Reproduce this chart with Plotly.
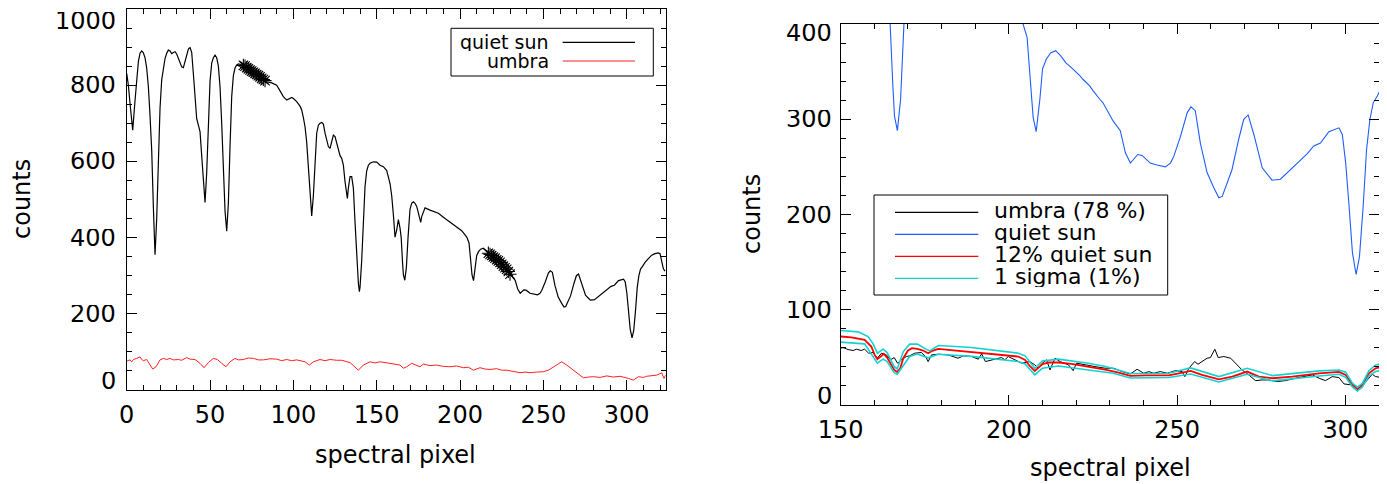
import plotly.graph_objects as go

W, H = 1387, 484
OFF = 8  # default page (body) margin in the browser; figure is placed at (OFF, OFF)
FONT = "DejaVu Sans"

# ---------------- data: quiet sun spectrum (counts vs spectral pixel) ----------------
qs_x = [0, 1, 2, 3, 3.6, 5, 6, 7, 8, 9, 10, 11, 12, 13, 14, 15, 16, 17, 18, 19, 20, 21, 22, 23, 24, 25, 26,
        27, 28, 29, 30, 31, 32, 33, 34, 35, 36, 37, 38, 39, 40, 41, 42, 43, 44, 45, 46, 47, 48, 49, 50, 51,
        52, 53, 54, 55, 56, 57, 58, 59, 60, 61, 62, 63, 64, 65, 66, 67, 68, 69,
        70, 71, 72, 73, 74, 75, 76, 77, 78, 79, 80, 81, 82, 83, 84, 87, 90, 92, 94, 96, 98, 99, 100, 102,
        104, 105, 106, 107, 108, 109, 110, 111, 112, 113, 114, 115, 116, 117, 118, 119, 120, 121, 122, 123,
        124, 125, 126, 127, 128, 129, 130, 131, 132, 132.4, 133, 134, 135, 136, 137, 138, 139, 139.6, 140,
        141, 142, 143, 144, 145, 146, 148, 150, 152, 154, 156, 158, 159, 160, 161, 162, 163, 164, 164.7,
        165.5, 166, 166.85, 167.8, 168.8, 169.5, 170, 171, 172, 173, 174, 175, 176, 176.4, 177, 178, 179,
        182, 187, 191, 196, 201, 203, 204.2, 205.4, 206.4, 207.2, 208.1, 209.2, 210, 211.1, 212.4, 213.9,
        215.4, 217, 218, 219, 220, 221, 222, 223, 224, 225, 226, 227, 228, 229, 230, 231, 233.1, 234.6,
        236.1, 238.3, 239.6, 242, 244, 246.5, 248, 249, 251, 253, 254.1, 255.4, 256.9, 258.9, 260.9,
        262.4, 263.4, 264.9, 266.3, 268.3, 269.8, 271.1, 272.8, 275.3, 276.8, 278.2, 280.7, 282.7, 286.2,
        288.7, 290.6, 292.6, 295.1, 298.1, 299.1, 300.1, 301.1, 302.1, 303.2, 304.2, 305.3, 306.3, 307.3,
        308.3, 309.5, 311, 313, 315, 317, 319, 320, 321, 322, 323]
qs_y = [831, 800, 752, 700, 682, 760, 820, 862, 884, 890, 885, 872, 845, 796, 720, 630, 480, 355, 450, 620,
        740, 814, 850, 870, 884, 892, 890, 883, 886, 888, 882, 870, 858, 848, 846, 862, 884, 895, 899, 886,
        830, 761, 712, 695, 678, 615, 545, 492, 570, 700, 810, 858, 872, 879, 872, 850, 796, 700, 569, 470,
        417, 490, 640, 770, 825, 845, 853, 856, 855, 854,
        852, 850, 846, 843, 840, 837, 834, 831, 828, 825, 822, 818, 815, 812, 809, 806, 800, 785, 770, 761,
        765, 768, 765, 757, 745, 735, 715, 691, 650, 575, 499, 457, 510, 600, 674, 695, 700, 702, 698, 674,
        655, 639, 634, 650, 669, 665, 650, 630, 615, 608, 590, 547, 510, 503, 530, 560, 560, 530, 440, 341,
        280, 258, 270, 340, 450, 534, 575, 590, 595, 599, 598, 590, 586, 576, 542, 510, 460, 401, 420, 447,
        425, 400, 335, 303, 288, 321, 400, 445, 475, 490, 494, 490, 482, 465, 445, 440, 455, 470, 478, 472,
        464, 450, 435, 418, 407, 400, 386, 335, 302, 287, 321, 353, 363, 369.5, 372, 366.6, 359, 356, 353,
        349, 346, 342, 339, 335, 330, 325, 321, 317, 311, 304, 298, 288, 265, 254, 263, 262, 254, 252, 250,
        254, 261, 282, 307, 313, 309, 275, 244, 228, 217.5, 219, 233, 247, 279, 300, 304.5, 284, 249, 242,
        236, 237, 244, 256, 264, 272, 275, 287, 291, 284, 254, 209, 160, 137, 156, 209, 268, 300, 317.5,
        324.5, 335, 345, 354, 358, 360, 358, 340, 318, 312]

# pixel ranges marked with asterisks
star_ranges = [(70, 83), (217, 230)]

# ---------------- data: umbra spectrum (left panel) ----------------
um_x = [0, 2, 3, 4, 6, 8, 9, 10, 12, 14, 15.6, 17.6, 20, 22, 24, 26, 28, 31, 33, 36, 38, 41, 44, 46.4, 49,
        52, 54.4, 57, 59.6, 62, 65, 67, 70, 73, 76, 79, 82, 86, 90, 93, 96, 99, 102, 107, 109.6, 112, 116,
        119, 122, 126, 129, 134, 137, 139, 142, 146, 149, 152, 155, 158, 161, 164, 166, 168, 171, 174,
        176, 178, 182, 186, 190, 194, 198, 202, 205, 208, 212, 215, 218, 222, 225, 228, 232, 236, 239,
        242, 246, 250, 253, 256, 258, 261, 264, 269, 274, 277, 280, 284, 288, 292, 296, 301, 304, 307,
        310, 312, 315, 318, 321, 322.4, 323.4]
um_y = [76, 79, 74, 80, 83, 87, 80, 77, 80, 66, 55, 61, 79, 83, 80, 83, 79, 80, 78, 85, 81, 80, 70, 58.5,
        72, 83, 80, 70, 61, 74, 83, 79, 80, 84, 83, 79, 79, 82, 81, 77, 80, 77, 79, 74, 65.5, 74, 80, 77,
        80, 78, 78, 72, 61, 52, 65.5, 74, 71, 74, 72, 70, 68, 65.5, 57, 61, 70, 64, 61, 68, 64, 65.5, 62,
        61, 63, 58.5, 60, 52, 58.5, 55, 54, 56, 52, 52, 49, 45.4, 47, 45.4, 47, 48, 52, 61, 66, 74, 65.5,
        48, 32, 34, 35, 33, 37, 34, 36, 30.5, 26, 35, 33, 36, 37, 39, 45, 30.5, 39]

# ---------------- data: right panel ----------------
u78_x = [150, 150.7, 152.2, 153.7, 154.7, 156.1, 157.1, 158.3, 159.6, 160.9, 162.1, 163.6, 164.8, 165.9,
         166.9, 168.0, 169.5, 170.5, 172.0, 174.0, 175.2, 176.0, 177.0, 179.0, 181.9, 184.9, 186.4, 188.9,
         190.9, 191.9, 193.0, 194.8, 197.8, 198.8, 199.8, 201.8, 203.8, 206.2, 207.7, 208.7, 209.9, 211.2,
         212.2, 213.7, 215.2, 217.7, 219.1, 220.1, 222.6, 225.6, 228.6, 231.1, 233.6, 236.1, 238.1, 240.1,
         241.6, 243.0, 245.0, 247.0, 249.5, 251.5, 252.3, 253.5, 255.2, 256.2, 257.4, 258.9, 259.9, 261.2,
         262.2, 263.9, 265.9, 267.8, 269.3, 271.3, 273.3, 275.3, 277.3, 279.8, 282.2, 285.2, 288.2, 290.2,
         292.2, 294.1, 296.1, 298.1, 299.6, 302.1, 303.6, 305.5, 307.0, 308.0, 309.0, 310.3]
u78_y = [59.6, 60.3, 58.2, 57.2, 58.6, 57.2, 58.6, 54.4, 55.1, 49.1, 54.4, 52.6, 47.4, 49.8, 43.9, 47.4,
         50.9, 51.6, 54.4, 55.1, 50.9, 45.6, 52.6, 53.3, 52.6, 49.1, 51.6, 50.9, 48.1, 53.7, 45.6, 47.4,
         49.8, 47.4, 50.9, 47.4, 43.9, 45.6, 42.1, 38.6, 43.9, 47.4, 36.8, 49.1, 45.6, 42.1, 36.1, 43.9,
         42.1, 40.3, 38.6, 38.6, 35.1, 32.6, 37.5, 33.3, 35.1, 33.3, 35.1, 33.3, 36.1, 35.1, 29.8, 38.6,
         45.6, 42.8, 45.6, 49.1, 49.8, 58.6, 49.8, 50.9, 49.1, 42.1, 36.8, 31.6, 25.6, 26.3, 26.3, 24.6,
         25.6, 28.1, 29.8, 31.6, 28.1, 25.6, 29.8, 28.8, 22.1, 21.0, 19.3, 22.1, 28.1, 32.3, 29.8, 29.1]

q12_x = [150, 153.2, 157.1, 159.1, 160.1, 160.9, 161.9, 162.8, 163.8, 164.9, 165.9, 166.8, 167.7, 168.6,
         170, 171.2, 172.8, 174.5, 176, 177, 179, 182, 188.9, 196.8, 202.8, 204.8, 206.2, 207.7, 208.7,
         209.9, 211.7, 214.7, 218.6, 223.6, 228.6, 232.6, 236.1, 240.6, 247.5, 250.5, 254, 257.4, 262.4,
         266.4, 270.8, 274.3, 278.3, 284.2, 292.2, 298.1, 300.1, 302.1, 303.6, 305.1, 307, 309, 310.3]
q12_y = [71.9, 70.9, 68.4, 61.4, 52.6, 48.1, 50.9, 53.7, 49.8, 42.1, 36.8, 34.7, 38.6, 49.1, 57.2, 59.6,
         58.9, 57.2, 54.4, 56.5, 58.9, 57.9, 55.8, 53.3, 50.9, 47.4, 41.0, 35.8, 38.6, 42.8, 44.6, 44.6,
         43.2, 40.3, 37.2, 34.0, 30.5, 31.2, 31.2, 33.3, 35.8, 31.6, 27.0, 29.8, 35.1, 29.8, 28.1, 29.8,
         33.3, 34.7, 31.6, 21.0, 16.5, 21.0, 33.3, 38.6, 39.6]

sig_hi_x = [150, 155.2, 158.1, 159.6, 160.9, 162.6, 163.8, 165.9, 166.8, 168.6, 170.5, 172.8, 175.2, 176.5,
            179, 188.9, 202.8, 204.8, 207.7, 209.9, 214.7, 223.6, 228.7, 236.1, 247.5, 254, 262.4, 270.8,
            278.3, 292.2, 298.1, 300.1, 302.1, 303.6, 305.1, 307, 309, 310.3]
sig_hi_y = [78.2, 76.8, 71.9, 64.5, 54.4, 58.6, 55.1, 40.3, 37.9, 56.1, 63.9, 63.9, 58.9, 56.8, 62.5, 60.3,
            54.4, 51.6, 38.6, 46.3, 48.1, 43.9, 40.5, 33.0, 33.3, 38.9, 29.8, 38.6, 30.9, 35.8, 36.8, 34.5,
            23.0, 18.6, 23.0, 36.0, 42.1, 42.8]
sig_lo_x = [150, 157.1, 160.9, 162.6, 163.8, 165.9, 166.8, 170.5, 172.8, 176, 179, 188.9, 202.8, 204.8,
            207.7, 209.9, 214.7, 223.6, 231, 236.1, 247.5, 254, 262.4, 270.8, 278.3, 292.2, 298.1, 300.1,
            302.1, 303.6, 305.1, 307, 309, 310.3]
sig_lo_y = [66.0, 64.2, 43.9, 48.1, 45.5, 34.0, 32.3, 50.9, 53.5, 49.5, 53.3, 51.0, 45.6, 43.0, 31.6, 38.5,
            41.0, 37.0, 33.3, 28.4, 28.8, 32.6, 24.2, 32.3, 25.3, 30.5, 32.3, 29.0, 19.0, 14.7, 19.0, 30.5,
            35.1, 36.1]

# tick values
left_yticks = [0, 200, 400, 600, 800, 1000]
right_yticks = [0, 100, 200, 300, 400]

left_legend = [("quiet sun", "black"), ("umbra", "#ff2020")]
right_legend = [("umbra (78 %)", "black"), ("quiet sun", "#1f5cff"),
                ("12% quiet sun", "#ff0000"), ("1 sigma (1%)", "#12d2d2")]

FW, FH = W - OFF, H - OFF


# ---------------- helpers: reference-pixel -> paper coordinates ----------------
def px(x):
    return (x - OFF) / FW


def py(y):
    return 1 - (y - OFF) / FH


fig = go.Figure()

# left panel
fig.add_trace(go.Scatter(x=qs_x, y=qs_y, mode="lines", line=dict(color="black", width=1.2),
                         xaxis="x", yaxis="y"))
fig.add_trace(go.Scatter(x=um_x, y=um_y, mode="lines", line=dict(color="#ff2020", width=1),
                         xaxis="x", yaxis="y"))
sx, sy = [], []
for a, b in star_ranges:
    for xv, yv in zip(qs_x, qs_y):
        if a <= xv <= b and float(xv).is_integer():
            sx.append(xv)
            sy.append(yv)
fig.add_trace(go.Scatter(x=sx, y=sy, mode="markers",
                         marker=dict(symbol="asterisk-open", size=11, color="black",
                                     line=dict(color="black", width=1.1)),
                         xaxis="x", yaxis="y"))

# right panel
fig.add_trace(go.Scatter(x=u78_x, y=u78_y, mode="lines", line=dict(color="black", width=1),
                         xaxis="x2", yaxis="y2"))
fig.add_trace(go.Scatter(x=qs_x, y=qs_y, mode="lines", line=dict(color="#1f5cff", width=1.1),
                         xaxis="x2", yaxis="y2"))
fig.add_trace(go.Scatter(x=q12_x, y=q12_y, mode="lines", line=dict(color="#ff0000", width=1.8),
                         xaxis="x2", yaxis="y2"))
fig.add_trace(go.Scatter(x=sig_hi_x, y=sig_hi_y, mode="lines", line=dict(color="#12d2d2", width=1.6),
                         xaxis="x2", yaxis="y2"))
fig.add_trace(go.Scatter(x=sig_lo_x, y=sig_lo_y, mode="lines", line=dict(color="#12d2d2", width=1.6),
                         xaxis="x2", yaxis="y2"))

tickfont = dict(family=FONT, size=24, color="black")


def axis(domain, rng, dtick, minor_dtick, **kw):
    d = dict(domain=domain, range=rng, tickmode="linear", tick0=0, dtick=dtick,
             ticks="inside", ticklen=10, tickwidth=1, tickcolor="black",
             minor=dict(ticks="inside", ticklen=5, dtick=minor_dtick, tick0=0, tickcolor="black",
                        tickwidth=1, showgrid=False),
             showline=True, linecolor="black", linewidth=1, mirror="allticks",
             showgrid=False, zeroline=False, tickfont=tickfont, automargin=False)
    d.update(kw)
    return d


fig.update_layout(
    width=FW, height=FH, autosize=False,
    margin=dict(l=0, r=0, t=0, b=0, autoexpand=False),
    paper_bgcolor="white", plot_bgcolor="white",
    showlegend=False,
    xaxis=axis([px(126.7), px(665.7)], [0, 323.4], 50, 10, anchor="y", ticklabelstandoff=3),
    yaxis=axis([py(390), py(9)], [0, 1000], 200, 50, anchor="x", showticklabels=False),
    xaxis2=axis([px(840.7), px(1379)], [150, 310], 50, 10, anchor="y2", ticklabelstandoff=3),
    yaxis2=axis([py(405), py(24)], [0, 400], 100, 20, anchor="x2", showticklabels=False),
)

annotations = []
shapes = []

# y tick labels (end labels nudged inward, as in the original)
for ticks, yref, xref, gap, top_shift in [(left_yticks, "y", "x domain", -10, -12),
                                          (right_yticks, "y2", "x2 domain", -8, -9)]:
    for i, v in enumerate(ticks):
        shift = 9 if i == 0 else (top_shift if i == len(ticks) - 1 else 0)
        annotations.append(dict(x=0, y=v, xref=xref, yref=yref, text=str(v), showarrow=False,
                                font=tickfont, xanchor="right", yanchor="middle", xshift=gap, yshift=shift,
                                height=18, borderpad=0))

titlefont = dict(family=FONT, size=24, color="black")
# axis titles
annotations.append(dict(x=px(396), y=py(455), xref="paper", yref="paper", text="spectral pixel",
                        showarrow=False, font=titlefont, xanchor="center", yanchor="middle"))
annotations.append(dict(x=px(1110), y=py(468), xref="paper", yref="paper", text="spectral pixel",
                        showarrow=False, font=titlefont, xanchor="center", yanchor="middle"))
annotations.append(dict(x=px(22), y=py(199), xref="paper", yref="paper", text="counts", height=24,
                        showarrow=False, font=titlefont, textangle=-90, xanchor="center", yanchor="middle",
                        borderpad=0))
annotations.append(dict(x=px(752), y=py(214), xref="paper", yref="paper", text="counts", height=24,
                        showarrow=False, font=titlefont, textangle=-90, xanchor="center", yanchor="middle",
                        borderpad=0))

# left legend
shapes.append(dict(type="rect", xref="paper", yref="paper", x0=px(451), x1=px(653.3), y0=py(76), y1=py(28.3),
                   line=dict(color="black", width=1), fillcolor="white", layer="above"))
for i, (lab, col) in enumerate(left_legend):
    yy = 42.3 + i * 18.7
    shapes.append(dict(type="line", xref="paper", yref="paper", x0=px(562.7), x1=px(635), y0=py(yy), y1=py(yy),
                       line=dict(color=col, width=1.2), layer="above"))
    annotations.append(dict(x=px(550), y=py(yy), xref="paper", yref="paper", text=lab, showarrow=False,
                            font=dict(family=FONT, size=19, color="black"), xanchor="right", yanchor="middle",
                            borderpad=0, height=18))

# right legend
shapes.append(dict(type="rect", xref="paper", yref="paper", x0=px(874), x1=px(1167.7), y0=py(295), y1=py(195),
                   line=dict(color="black", width=1), fillcolor="white", layer="above"))
for i, (lab, col) in enumerate(right_legend):
    yy = 212.3 + i * 22.0
    shapes.append(dict(type="line", xref="paper", yref="paper", x0=px(895), x1=px(978.3), y0=py(yy), y1=py(yy),
                       line=dict(color=col, width=1.2), layer="above"))
    annotations.append(dict(x=px(993.3), y=py(yy - 2), xref="paper", yref="paper", text=lab, showarrow=False,
                            font=dict(family=FONT, size=22, color="black"), xanchor="left", yanchor="middle",
                            borderpad=0, height=21))

fig.update_layout(annotations=annotations, shapes=shapes)
fig.write_html("out.html")
